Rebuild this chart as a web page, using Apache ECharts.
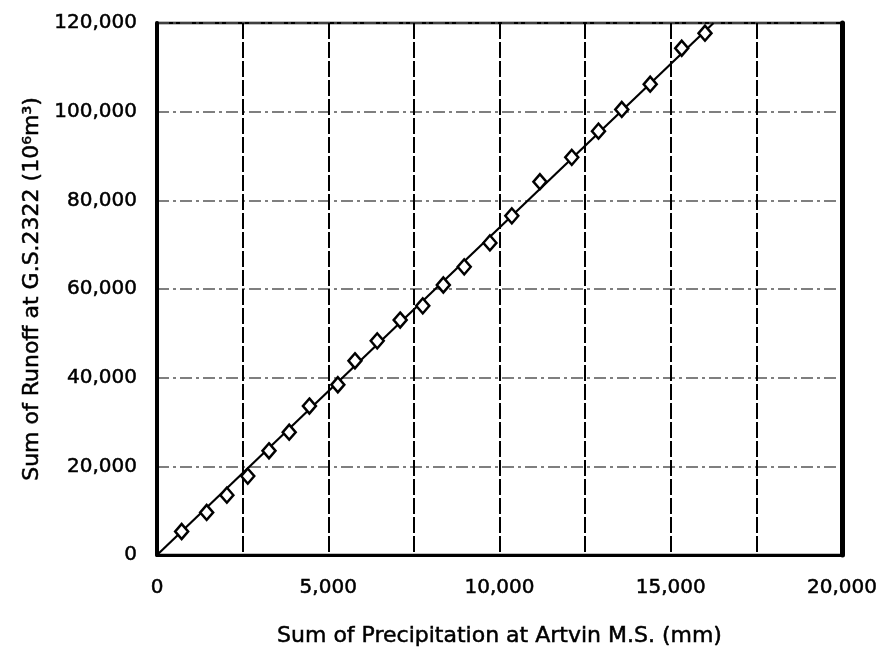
<!DOCTYPE html>
<html>
<head>
<meta charset="utf-8">
<script src="https://cdn.jsdelivr.net/npm/echarts@6/dist/echarts.min.js"></script>
<style>
html,body{margin:0;padding:0;background:#fff;}
#chart{width:886px;height:661px;}
</style>
</head>
<body>
<div id="chart"></div>
<script>
// Cumulative precipitation at Artvin M.S. (mm)
var precip = [720, 1450, 2040, 2650, 3270, 3860, 4450, 5280, 5780, 6430, 7100, 7760, 8360, 8970, 9720, 10360, 11180, 12110, 12890, 13570, 14400, 15320, 16000];
// Cumulative runoff at G.S.2322 (10^6 m^3)
var runoff = [5300, 9600, 13500, 17800, 23500, 27700, 33600, 38400, 43800, 48300, 53000, 56200, 60900, 65000, 70400, 76500, 84200, 89700, 95600, 100500, 106200, 114300, 117700];
// Fitted straight line (through origin)
var fitX = [0, 16250];
var fitY = [0, 120000];
var xTicks = [0, 5000, 10000, 15000, 20000];
var yTicks = [0, 20000, 40000, 60000, 80000, 100000, 120000];

var pts = precip.map(function(v, i){ return [v, runoff[i]]; });
var fit = fitX.map(function(v, i){ return [v, fitY[i]]; });
function fmt(v){ return v.toString().replace(/\B(?=(\d{3})+(?!\d))/g, ','); }

var font = 'DejaVu Sans';
var txt = {fontFamily: font, color: '#000', textBorderColor: '#000', textBorderWidth: 0.5};
function ts(size, extra){ var o = Object.assign({}, txt, {fontSize: size}); return Object.assign(o, extra || {}); }

var chart = echarts.init(document.getElementById('chart'), null, {renderer:'canvas'});
chart.setOption({
  backgroundColor: '#fff',
  animation: false,
  grid: {left: 157, right: 44, top: 23, bottom: 106, show: true, borderColor: '#000', borderWidth: 2.5, containLabel: false},
  xAxis: [{
    type: 'value', min: xTicks[0], max: xTicks[xTicks.length-1], interval: 5000,
    name: 'Sum of Precipitation at Artvin M.S. (mm)', nameLocation: 'middle', nameGap: 70,
    nameTextStyle: ts(22),
    axisLine: {show: true, onZero: false, lineStyle: {color: '#000', width: 3}},
    axisTick: {show: false},
    minorTick: {show: false, splitNumber: 2},
    axisLabel: Object.assign(ts(20), {margin: 23, formatter: fmt}),
    splitLine: {show: true, lineStyle: {color: '#000', width: 2, type: [16, 3]}},
    minorSplitLine: {show: true, lineStyle: {color: '#000', width: 2, type: [16, 3]}}
  }],
  yAxis: [{
    type: 'value', min: yTicks[0], max: yTicks[yTicks.length-1], interval: 20000,
    name: 'Sum of Runoff at G.S.2322 (10⁶m³)', nameLocation: 'middle', nameGap: 108,
    nameTextStyle: ts(22),
    axisLine: {show: true, onZero: false, lineStyle: {color: '#000', width: 4}},
    axisTick: {show: false},
    axisLabel: Object.assign(ts(20), {margin: 20, formatter: fmt}),
    splitLine: {show: true, lineStyle: {color: '#555', width: 1.5, type: [12, 4, 3, 4]}}
  }, {
    type: 'value', position: 'right', min: yTicks[0], max: yTicks[yTicks.length-1], interval: 20000,
    axisLine: {show: true, onZero: false, lineStyle: {color: '#000', width: 5}},
    axisTick: {show: false}, axisLabel: {show: false}, splitLine: {show: false}
  }],
  series: [{
    type: 'line', data: fit, showSymbol: false, symbol: 'none', z: 2,
    lineStyle: {color: '#000', width: 2.2}
  }, {
    type: 'scatter', data: pts, symbol: 'diamond', symbolSize: [13, 15], z: 3,
    itemStyle: {color: '#fff', borderColor: '#000', borderWidth: 2.5, opacity: 1}
  }]
});
</script>
</body>
</html>
